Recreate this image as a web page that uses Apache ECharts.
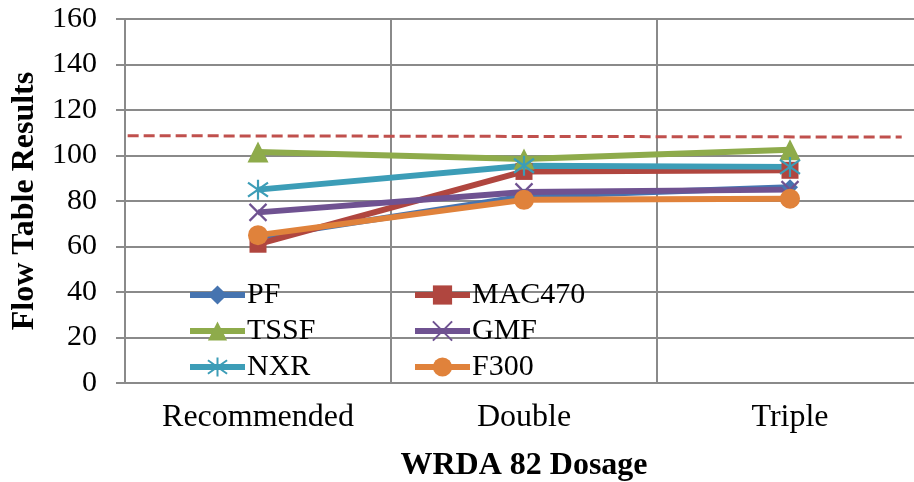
<!DOCTYPE html>
<html>
<head>
<meta charset="utf-8">
<script src="https://cdn.jsdelivr.net/npm/echarts@6/dist/echarts.min.js"></script>
<style>
  html, body { margin: 0; padding: 0; background: #fff; overflow: hidden; }
  #chart { width: 914px; height: 482px; }
</style>
</head>
<body>
<div id="chart"></div>
<script>
// Flow table results for each admixture at three WRDA 82 dosages
const categories = ['Recommended', 'Double', 'Triple'];
const pf     = [64, 82, 86];
const mac470 = [61, 93, 93.5];
const tssf   = [101.5, 98.5, 102.5];
const gmf    = [75, 84, 85];
const nxr    = [85, 95.5, 95];
const f300   = [65, 80.5, 81];
const yTicks = [0, 20, 40, 60, 80, 100, 120, 140, 160];

// Reference limit line (x runs 0..3 across the category band)
const limitX = [0.01, 2.92];
const limitY = [108.7, 108.1];

const FONT = '"Liberation Serif", "Times New Roman", serif';
const GRID_COLOR = '#8a8a8a';

const asterisk = 'path://M10,0L10,20M3,3L17,17M3,17L17,3';
const cross = 'path://M2,2L18,18M2,18L18,2';

function lineSeries(name, data, color, symbol, size, stroke) {
  return {
    name: name,
    type: 'line',
    data: data,
    xAxisIndex: 0,
    symbol: symbol,
    symbolSize: size,
    showAllSymbol: true,
    lineStyle: { color: color, width: 6 },
    itemStyle: stroke
      ? { color: 'rgba(0,0,0,0)', borderColor: color, borderWidth: 2.2 }
      : { color: color, borderWidth: 0 },
    emphasis: { disabled: true },
    animation: false
  };
}

const legendBase = {
  orient: 'vertical',
  top: 280,
  itemWidth: 55,
  itemHeight: 24,
  itemGap: 6,
  padding: 0,
  lineStyle: { width: 6 },
  textStyle: { color: '#000', fontFamily: FONT, fontSize: 30, lineHeight: 30, padding: [0, 0, 0, -3] }
};

const chart = echarts.init(document.getElementById('chart'), null, { renderer: 'canvas', width: 914, height: 482 });

chart.setOption({
  backgroundColor: '#ffffff',
  animation: false,
  grid: { left: 125, top: 19, width: 798, height: 364, containLabel: false, outerBoundsMode: 'none' },
  xAxis: [
    {
      type: 'category',
      data: categories,
      boundaryGap: true,
      axisLine: { lineStyle: { color: GRID_COLOR, width: 2 } },
      axisTick: { show: false },
      splitLine: { show: true, lineStyle: { color: GRID_COLOR, width: 2 } },
      axisLabel: { color: '#000', fontFamily: FONT, fontSize: 32, margin: 19 },
      name: 'WRDA 82 Dosage',
      nameLocation: 'middle',
      nameGap: 67,
      nameTextStyle: { color: '#000', fontFamily: FONT, fontSize: 32, fontWeight: 'bold' }
    },
    {
      type: 'value',
      min: 0,
      max: 3,
      show: false
    }
  ],
  yAxis: {
    type: 'value',
    min: yTicks[0],
    max: yTicks[yTicks.length - 1],
    interval: yTicks[1] - yTicks[0],
    axisLine: { show: true, lineStyle: { color: GRID_COLOR, width: 2 } },
    axisTick: { show: true, length: 9, lineStyle: { color: GRID_COLOR, width: 2 } },
    splitLine: { show: true, lineStyle: { color: GRID_COLOR, width: 2 } },
    axisLabel: { color: '#000', fontFamily: FONT, fontSize: 30, margin: 28 },
    name: 'Flow Table Results',
    nameLocation: 'middle',
    nameRotate: 90,
    nameGap: 70,
    nameTextStyle: { color: '#000', fontFamily: FONT, fontSize: 32, fontWeight: 'bold' }
  },
  legend: [
    Object.assign({ data: ['PF', 'TSSF', 'NXR'], left: 187 }, legendBase),
    Object.assign({ data: ['MAC470', 'GMF', 'F300'], left: 412 }, legendBase)
  ],
  series: [
    lineSeries('PF', pf, '#4674b0', 'diamond', 16, false),
    lineSeries('MAC470', mac470, '#b0463f', 'rect', 17, false),
    lineSeries('TSSF', tssf, '#8eab4b', 'triangle', 21, false),
    lineSeries('GMF', gmf, '#6f5291', cross, 17, true),
    lineSeries('NXR', nxr, '#3c9db7', asterisk, 20, true),
    lineSeries('F300', f300, '#e0823b', 'circle', 20, false),
    {
      name: 'limit',
      type: 'line',
      xAxisIndex: 1,
      data: limitX.map((x, i) => [x, limitY[i]]),
      symbol: 'none',
      lineStyle: { color: '#c0504d', width: 3, type: [11, 5] },
      emphasis: { disabled: true },
      animation: false,
      z: 1
    }
  ]
});
</script>
</body>
</html>
